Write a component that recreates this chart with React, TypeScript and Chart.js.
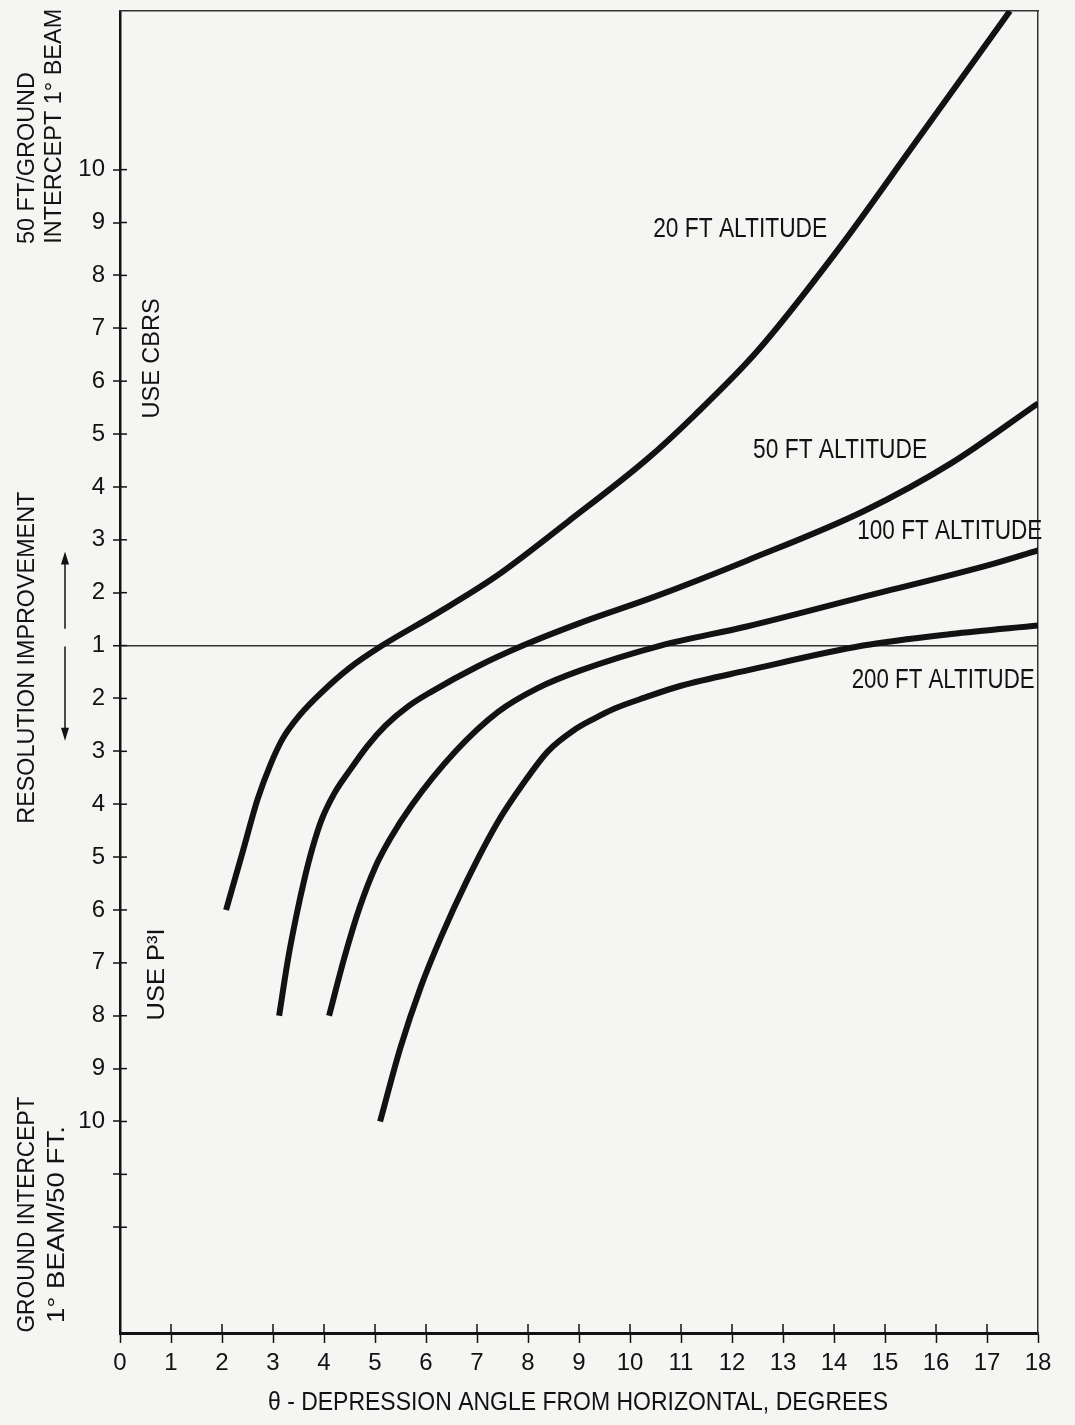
import React, { useEffect, useRef } from 'react';
import { Chart, registerables } from 'chart.js';

Chart.register(...registerables);

// Y axis positions: 0 is the "1" line; upward = (50 FT / GROUND INTERCEPT) - 1,
// downward = -((GROUND INTERCEPT / 50 FT) - 1)
const xTickValues = [0, 1, 2, 3, 4, 5, 6, 7, 8, 9, 10, 11, 12, 13, 14, 15, 16, 17, 18];

const alt20X = [2.08, 2.4, 2.7, 2.95, 3.19, 3.52, 3.97, 4.49, 5.14, 6.2, 7.36, 8.78, 10.34, 11.26, 12.48, 14.05, 15.55, 17.45];
const alt20Y = [-5.0, -3.92, -2.9, -2.25, -1.76, -1.32, -0.87, -0.43, 0, 0.6, 1.3, 2.34, 3.53, 4.35, 5.55, 7.45, 9.45, 12.0];

const alt50X = [3.12, 3.3, 3.46, 3.62, 3.77, 3.95, 4.2, 4.49, 4.85, 5.21, 5.65, 6.11, 7.0, 7.9, 9.0, 10.5, 12.3, 14.6, 16.3, 18.0];
const alt50Y = [-7.0, -5.9, -5.1, -4.4, -3.84, -3.3, -2.8, -2.38, -1.9, -1.51, -1.15, -0.87, -0.4, 0, 0.42, 0.93, 1.61, 2.55, 3.45, 4.58];

const alt100X = [4.1, 4.4, 4.7, 5.0, 5.3, 5.72, 6.58, 7.42, 8.2, 9.03, 10.6, 12.29, 14.57, 17.03, 18.0];
const alt100Y = [-7.0, -5.9, -4.95, -4.2, -3.65, -3.02, -2.0, -1.25, -0.8, -0.47, 0, 0.36, 0.92, 1.52, 1.8];

const alt200X = [5.1, 5.5, 5.9, 6.3, 6.8, 7.4, 7.9, 8.39, 8.9, 9.3, 9.7, 10.3, 11.0, 12.3, 14.57, 16.3, 18.0];
const alt200Y = [-9.0, -7.6, -6.45, -5.5, -4.45, -3.35, -2.62, -2.0, -1.6, -1.38, -1.19, -0.98, -0.76, -0.47, 0, 0.22, 0.38];

const seriesNames = ['20 FT ALTITUDE', '50 FT ALTITUDE', '100 FT ALTITUDE', '200 FT ALTITUDE'];

const INK = '#121212';
const BG = '#f5f5f3';
const FONT = '"Liberation Sans", Arial, sans-serif';
const TICK_FONT = '"Liberation Sans", Arial, sans-serif';

type Note = {
  text: string;
  x?: number; // data x
  px?: number; // offset from chart-area left in px
  y: number; // axis position
  size: number;
  len: number;
  rot?: number;
};

const notes: Note[] = [
  { text: '20 FT ALTITUDE', x: 12.16, y: 7.88, size: 28, len: 174 },
  { text: '50 FT ALTITUDE', x: 14.12, y: 3.69, size: 28, len: 174 },
  { text: '100 FT ALTITUDE', x: 16.27, y: 2.17, size: 28, len: 185 },
  { text: '200 FT ALTITUDE', x: 16.14, y: -0.66, size: 28, len: 183 },
  { text: 'USE CBRS', x: 0.63, y: 5.43, size: 24, len: 120, rot: -Math.PI / 2 },
  { text: 'USE P\u00B3I', x: 0.73, y: -6.22, size: 24, len: 92, rot: -Math.PI / 2 },
  { text: '\u03B8 - DEPRESSION ANGLE FROM HORIZONTAL, DEGREES', x: 8.98, y: -14.33, size: 25, len: 620 },
  { text: '50 FT/GROUND', px: -92, y: 9.22, size: 23, len: 172, rot: -Math.PI / 2 },
  { text: 'INTERCEPT 1\u00B0 BEAM', px: -65, y: 9.82, size: 23, len: 235, rot: -Math.PI / 2 },
  { text: 'RESOLUTION IMPROVEMENT', px: -92, y: -0.23, size: 23, len: 332, rot: -Math.PI / 2 },
  { text: 'GROUND INTERCEPT', px: -92, y: -10.76, size: 23, len: 236, rot: -Math.PI / 2 },
  { text: '1\u00B0 BEAM/50 FT.', px: -62, y: -10.95, size: 23, len: 197, rot: -Math.PI / 2 },
];

const annotatePlugin = {
  id: 'annotate',
  afterDraw(chart: any) {
    const { ctx, chartArea, scales } = chart;
    const xs = scales.x;
    const ys = scales.y;
    ctx.save();
    // inner halves of tick marks
    ctx.strokeStyle = INK;
    ctx.lineWidth = 1.5;
    ys.ticks.forEach((t: any) => {
      if (t.value >= -11 && t.value <= 9) {
        const py = ys.getPixelForValue(t.value);
        ctx.beginPath();
        ctx.moveTo(chartArea.left, py);
        ctx.lineTo(chartArea.left + 7, py);
        ctx.stroke();
      }
    });
    xs.ticks.forEach((t: any) => {
      if (t.value > 0 && t.value < 18) {
        const pxv = xs.getPixelForValue(t.value);
        ctx.beginPath();
        ctx.moveTo(pxv, chartArea.bottom);
        ctx.lineTo(pxv, chartArea.bottom - 9);
        ctx.stroke();
      }
    });
    // arrows beside the y axis title
    const ax = chartArea.left - 55;
    const drawArrow = (from: number, to: number) => {
      const y1 = ys.getPixelForValue(from);
      const y2 = ys.getPixelForValue(to);
      const dir = y2 < y1 ? -1 : 1;
      ctx.beginPath();
      ctx.lineWidth = 1.5;
      ctx.moveTo(ax, y1);
      ctx.lineTo(ax, y2 - dir * 10);
      ctx.stroke();
      ctx.beginPath();
      ctx.moveTo(ax, y2);
      ctx.lineTo(ax - 4, y2 - dir * 13);
      ctx.lineTo(ax + 4, y2 - dir * 13);
      ctx.closePath();
      ctx.fillStyle = INK;
      ctx.fill();
    };
    drawArrow(0.32, 1.78);
    drawArrow(-0.02, -1.8);
    // text notes
    notes.forEach((n) => {
      const cx = n.x !== undefined ? xs.getPixelForValue(n.x) : chartArea.left + (n.px || 0);
      const cy = ys.getPixelForValue(n.y);
      ctx.save();
      ctx.font = `${n.size}px ${FONT}`;
      const w = ctx.measureText(n.text).width;
      const sx = n.len / w;
      ctx.translate(cx, cy);
      if (n.rot) ctx.rotate(n.rot);
      ctx.scale(sx, 1);
      ctx.textAlign = 'center';
      ctx.textBaseline = 'middle';
      ctx.fillStyle = INK;
      ctx.fillText(n.text, 0, 0);
      ctx.restore();
    });
    ctx.restore();
  },
};

function makeSeries(xs: number[], ys: number[]) {
  return xs.map((x, i) => ({ x, y: ys[i] }));
}

export default function App() {
  const ref = useRef<HTMLCanvasElement | null>(null);

  useEffect(() => {
    if (!ref.current) return;
    const datasets = [
      makeSeries(alt20X, alt20Y),
      makeSeries(alt50X, alt50Y),
      makeSeries(alt100X, alt100Y),
      makeSeries(alt200X, alt200Y),
    ].map((data, i) => ({
      label: seriesNames[i],
      data,
      showLine: true,
      borderColor: INK,
      backgroundColor: INK,
      borderWidth: 6,
      pointRadius: 0,
      fill: false,
      cubicInterpolationMode: 'monotone' as const,
    }));

    const chart = new Chart(ref.current, {
      type: 'scatter',
      data: { datasets },
      plugins: [annotatePlugin],
      options: {
        responsive: false,
        animation: false,
        devicePixelRatio: 1,
        layout: { padding: { left: 0, top: 11, right: 37, bottom: 0 } },
        plugins: { legend: { display: false }, tooltip: { enabled: false } },
        scales: {
          x: {
            type: 'linear',
            position: 'bottom',
            min: 0,
            max: 18,
            afterFit: (s: any) => {
              s.height = 92;
              s.paddingLeft = 0;
              s.paddingRight = 0;
            },
            afterBuildTicks: (s: any) => { s.ticks = xTickValues.map((v) => ({ value: v })); },
            ticks: {
              stepSize: 1,
              autoSkip: false,
              maxRotation: 0,
              padding: 6,
              color: INK,
              font: { family: TICK_FONT, size: 24 },
            },
            grid: { drawOnChartArea: false, tickLength: 10, tickColor: INK, tickWidth: 1.5 },
            border: { display: true, color: INK, width: 3 },
          },
          y: {
            type: 'linear',
            position: 'left',
            min: -13,
            max: 12,
            afterFit: (s: any) => {
              s.width = 120;
              s.paddingTop = 0;
              s.paddingBottom = 0;
            },
            ticks: {
              stepSize: 1,
              maxTicksLimit: 100,
              autoSkip: false,
              padding: 8,
              color: INK,
              font: { family: TICK_FONT, size: 24 },
              callback: (v: any) => {
                const a = Math.abs(Number(v));
                return a <= 9 ? String(a + 1) : '';
              },
            },
            grid: {
              drawOnChartArea: true,
              color: (c: any) => (c.tick && c.tick.value === 0 ? '#333' : 'rgba(0,0,0,0)'),
              lineWidth: (c: any) => (c.tick && c.tick.value === 0 ? 1.5 : 0),
              tickLength: 7,
              tickWidth: 1.5,
              tickColor: (c: any) => {
                const v = c.tick ? c.tick.value : 99;
                return v >= -11 && v <= 9 ? INK : 'rgba(0,0,0,0)';
              },
            },
            border: { display: true, color: INK, width: 2.5 },
          },
          xTop: {
            type: 'linear',
            position: 'top',
            min: 0,
            max: 18,
            afterFit: (s: any) => {
              s.height = 0;
              s.paddingLeft = 0;
              s.paddingRight = 0;
            },
            ticks: { display: false },
            grid: { drawOnChartArea: false, drawTicks: false },
            border: { display: true, color: '#333', width: 1.5 },
          },
          yRight: {
            type: 'linear',
            position: 'right',
            min: -13,
            max: 12,
            afterFit: (s: any) => {
              s.width = 0;
              s.paddingTop = 0;
              s.paddingBottom = 0;
            },
            ticks: { display: false },
            grid: { drawOnChartArea: false, drawTicks: false },
            border: { display: true, color: '#333', width: 1.5 },
          },
        },
      },
    } as any);
    return () => chart.destroy();
  }, []);

  return (
    <div style={{ position: 'absolute', left: 0, top: 0, width: 1075, height: 1425, background: BG }}>
      <canvas ref={ref} width={1075} height={1425} style={{ display: 'block', width: 1075, height: 1425 }} />
    </div>
  );
}
